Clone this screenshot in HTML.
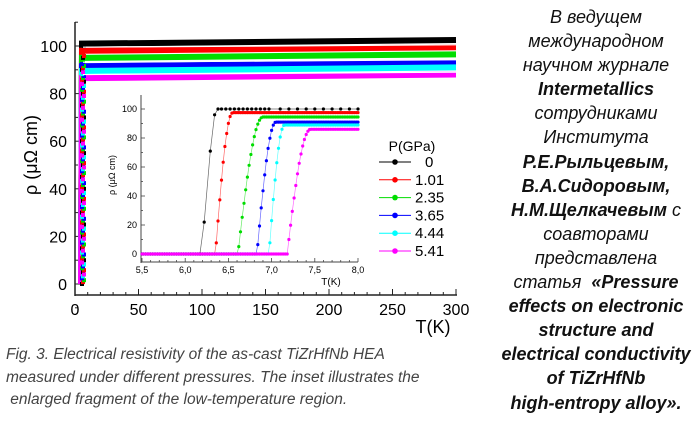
<!DOCTYPE html>
<html><head><meta charset="utf-8"><style>
body{margin:0;width:697px;height:425px;background:#fff;overflow:hidden;position:relative;font-family:"Liberation Sans",sans-serif}
#rt{position:absolute;left:490px;width:212px;top:5px;text-align:center;font-style:italic;font-size:18px;line-height:24.1px;color:#111}
#cap{position:absolute;left:6px;top:344px;font-style:italic;font-size:15.5px;line-height:22.5px;color:#444}
</style></head><body>
<svg id="s" width="697" height="425" style="position:absolute;left:0;top:0" font-family="Liberation Sans, sans-serif"></svg>
<div id="rt">В ведущем<br>международном<br>научном журнале<br><b>Intermetallics</b><br>сотрудниками<br>Института<br><b>Р.Е.Рыльцевым,</b><br><b>В.А.Сидоровым,</b><br><b>Н.М.Щелкачевым</b> с<br>соавторами<br>представлена<br>статья &nbsp;<b>«Pressure<br>effects on electronic<br>structure and<br>electrical conductivity<br>of TiZrHfNb<br>high-entropy alloy».</b></div>
<div id="cap">Fig. 3. Electrical resistivity of the as-cast TiZrHfNb HEA<br>measured under different pressures. The inset illustrates the<br>&nbsp;enlarged fragment of the low-temperature region.</div>
<script>
var s='';
function L(x1,y1,x2,y2,c,w){s+='<line x1="'+x1+'" y1="'+y1+'" x2="'+x2+'" y2="'+y2+'" stroke="'+c+'" stroke-width="'+(w||1)+'"/>';}
function T(x,y,t,sz,a,ex){s+='<text x="'+x+'" y="'+y+'" font-size="'+sz+'" text-anchor="'+(a||'middle')+'" '+(ex||'')+'>'+t+'</text>';}
var cols=['#000','#f00','#0d0','#00f','#0ff','#f0f'];
var lev=[101,98,95,91.5,89.5,86.5];
var X=function(t){return 75+t*1.27},Y=function(v){return 284-v*2.38};
L(75,22,75,296,'#222',1.5);L(75,295,457,295,'#222',1.5);
for(var t=0;t<=300;t+=10){var x=X(t);L(x,295,x,t%50?292:289,'#222',1);}
for(var v=-10;v<=110;v+=10){L(75,Y(v),v%20?78:81,Y(v),'#222',1);}
for(var t=0;t<=300;t+=50)T(X(t),315,t,16);
for(var v=0;v<=100;v+=20)T(67,Y(v)+6,v,16,'end');
T(0,0,'ρ (μΩ cm)',18,'middle','transform="translate(37,155) rotate(-90)"');
T(433,333,'T(K)',18);
for(var i=0;i<6;i++){var c=cols[i],y0=Y(lev[i]),y1=Y(lev[i]+1.5);
s+='<path d="M81,'+Y(0)+' L82,'+y0+' L456,'+y1+'" stroke="'+c+'" stroke-width="6" fill="none"/>';}
for(var i=0;i<6;i++){var c=cols[i];for(var v=0;v<lev[i];v+=5)s+='<rect x="'+(80+(i+v/5)%3)+'" y="'+(Y(v+i*0.8)-2)+'" width="4" height="4" fill="'+c+'"/>';}
L(83,Y(99.5),456,Y(100.5),'#fff',1.2);L(83,Y(93.2),456,Y(94.2),'#fff',1.2);L(83,Y(88),456,Y(89),'#fff',1.2);
var x2=function(t){return 142+(t-5.5)*86.4},y2=function(v){return 254-v*1.45};
s+='<rect x="141" y="93" width="218" height="170" fill="#fff"/>';
L(141,95,141,263,'#444',1);L(141,262,358,262,'#444',1);
for(var t=5.5;t<=8.01;t+=0.1){var x=x2(t);L(x,262,x,Math.abs(t*2-Math.round(t*2))<.01?258:260,'#444',.8);}
for(var v=0;v<=100;v+=10)L(141,y2(v),v%20?143:145,y2(v),'#444',.8);
['5,5','6,0','6,5','7,0','7,5','8,0'].forEach(function(l,k){T(x2(5.5+k*.5),273,l,9);});
for(var v=0;v<=100;v+=20)T(137,y2(v)+3,v,9,'end');
T(0,0,'ρ (μΩ cm)',9,'middle','transform="translate(115,175) rotate(-90)"');
T(331,285,'T(K)',10);
var tc=[[6.17,6.36],[6.35,6.55],[6.61,6.9],[6.83,7.05],[6.97,7.15],[7.18,7.45]];
for(var i=0;i<6;i++){var a=tc[i][0],b=tc[i][1],h=lev[i]-0.5,p='',pts=[];
for(var t=5.5;t<=8.0;t+=(i==0?0.1:0.02)){var v=t<a?0:t>b?h:h*Math.sin((t-a)/(b-a)*Math.PI/2);pts.push([x2(t),y2(v)]);}
if(i==0){pts=[[x2(5.5),y2(0)],[x2(6.17),y2(0)],[x2(6.22),y2(22)],[x2(6.29),y2(71)],[x2(6.34),y2(96)],[x2(6.38),y2(100)]];for(var t=6.42;t<=7.0;t+=.05)pts.push([x2(t),y2(100)]);for(var t=7.1;t<=8.0;t+=.1)pts.push([x2(t),y2(100)]);}
pts.forEach(function(q,k){p+=(k?'L':'M')+q[0].toFixed(1)+','+q[1].toFixed(1);});
s+='<path d="'+p+'" stroke="'+cols[i]+'" stroke-width="0.7" fill="none" opacity=".6"/>';
pts.forEach(function(q){s+='<circle cx="'+q[0].toFixed(1)+'" cy="'+q[1].toFixed(1)+'" r="1.6" fill="'+cols[i]+'"/>';});}
T(412,151,'P(GPa)',14);
var lb=['0','1.01','2.35','3.65','4.44','5.41'];
for(var i=0;i<6;i++){var y=162+i*17.8;L(379,y,411,y,cols[i],1);s+='<circle cx="395" cy="'+y+'" r="2.8" fill="'+cols[i]+'"/>';T(415,y+5,lb[i],15,'start',i==0?'dx="10"':'');}
document.getElementById('s').innerHTML=s;
</script>
</body></html>
